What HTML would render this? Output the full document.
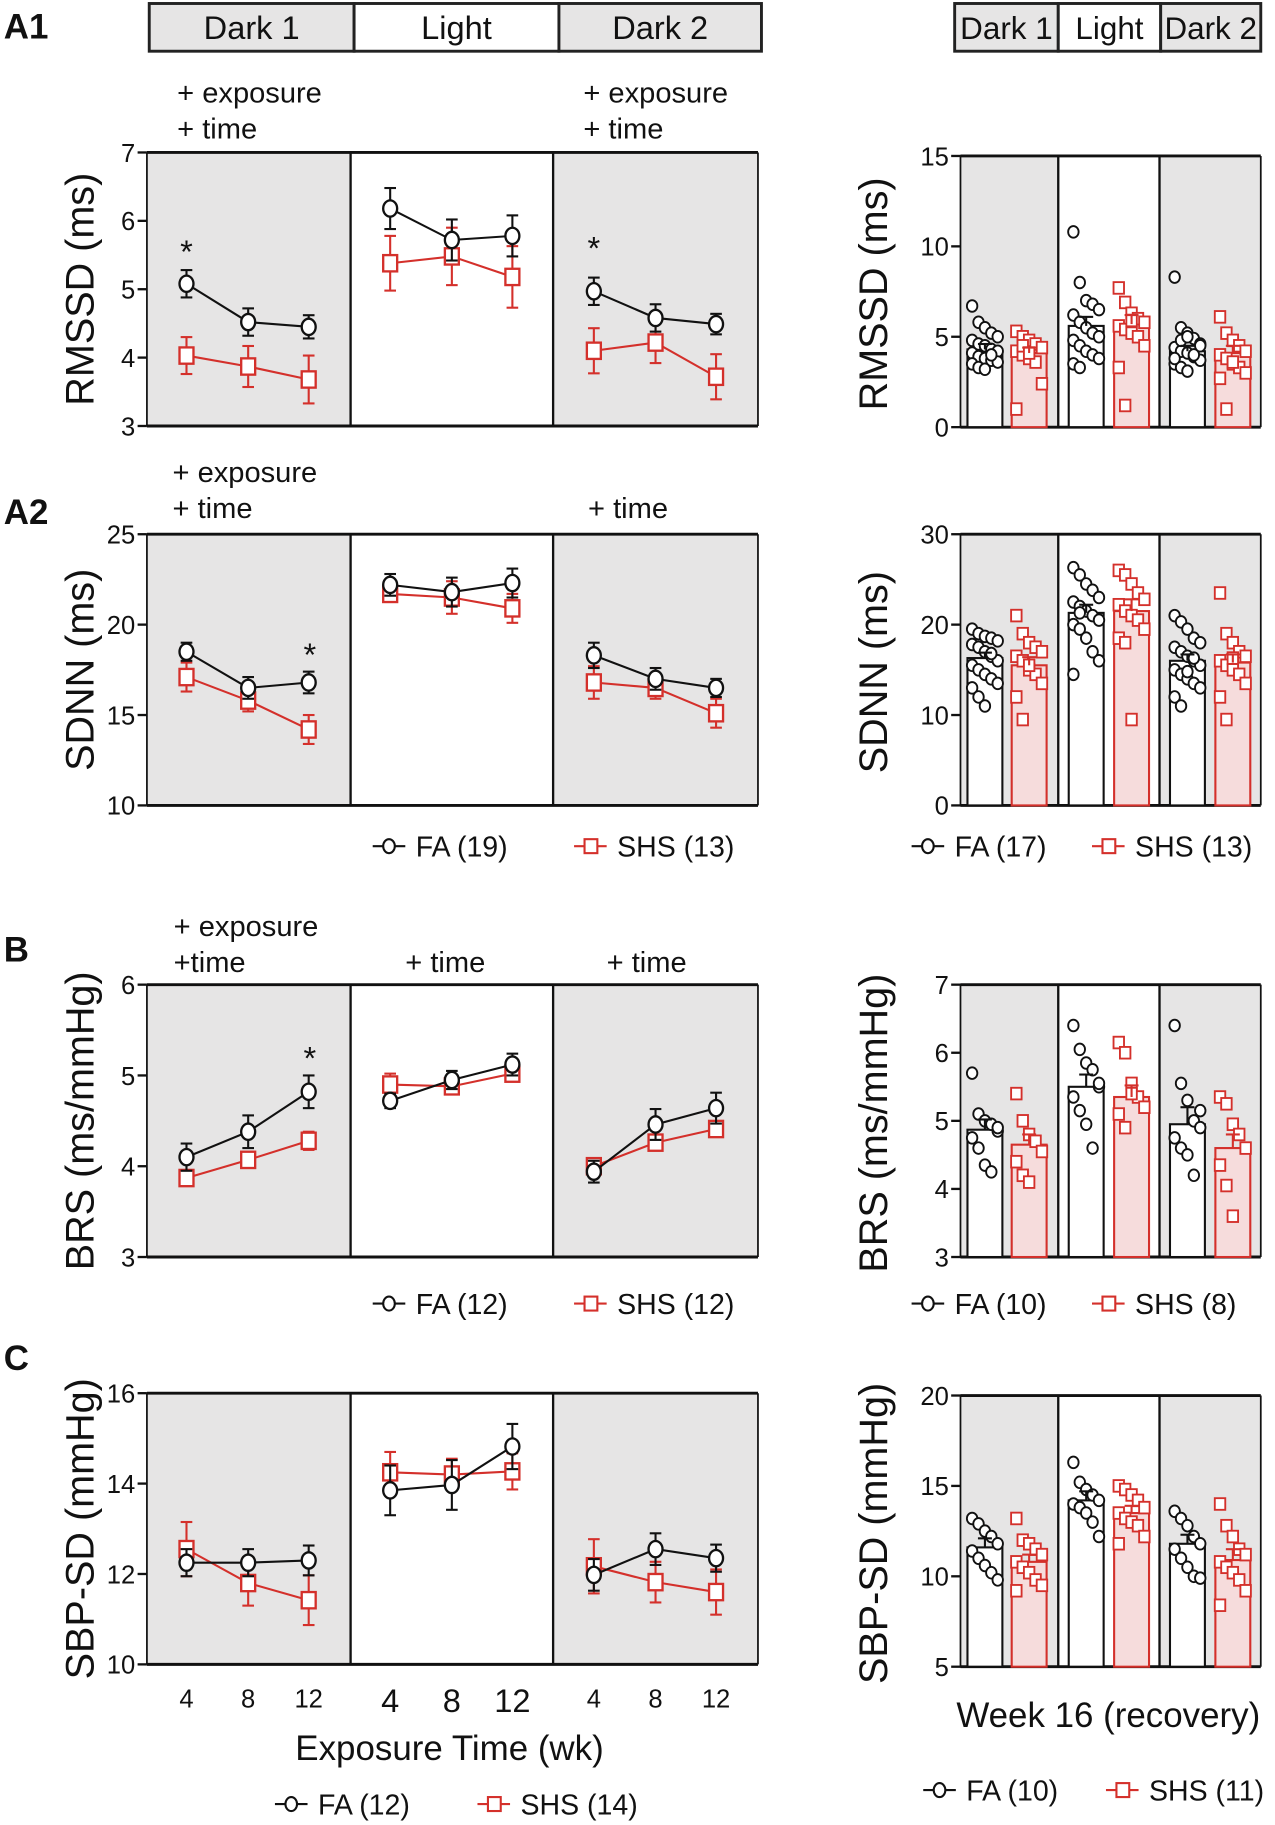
<!DOCTYPE html>
<html><head><meta charset="utf-8"><style>
html,body{margin:0;padding:0;background:#fff;}
svg{display:block;font-family:"Liberation Sans",Arial,sans-serif;}
</style></head><body>
<svg id="fig" width="1275" height="1825" viewBox="0 0 1095 1568" xmlns="http://www.w3.org/2000/svg"></svg>
<script>
// ---------- DATA ----------
const weeks = ["4","8","12"];
const phases = ["Dark 1","Light","Dark 2"];
const a1FA = [5.08,4.52,4.45, 6.18,5.72,5.78, 4.97,4.58,4.49];
const a1FAerr = [0.2,0.2,0.17, 0.3,0.3,0.3, 0.2,0.2,0.15];
const a1SHS = [4.03,3.87,3.68, 5.38,5.48,5.18, 4.1,4.22,3.72];
const a1SHSerr = [0.27,0.3,0.35, 0.4,0.42,0.45, 0.33,0.3,0.33];
const a2FA = [18.5,16.5,16.8, 22.2,21.8,22.3, 18.3,17.0,16.5];
const a2FAerr = [0.5,0.6,0.6, 0.6,0.8,0.8, 0.7,0.6,0.5];
const a2SHS = [17.1,15.8,14.2, 21.7,21.5,20.9, 16.8,16.5,15.1];
const a2SHSerr = [0.8,0.6,0.8, 0.4,0.9,0.8, 0.9,0.6,0.8];
const bFA = [4.1,4.38,4.82, 4.72,4.95,5.12, 3.94,4.46,4.64];
const bFAerr = [0.15,0.18,0.18, 0.08,0.1,0.12, 0.12,0.17,0.17];
const bSHS = [3.87,4.07,4.28, 4.9,4.88,5.02, 4.0,4.26,4.41];
const bSHSerr = [0.06,0.08,0.1, 0.12,0.06,0.05, 0.08,0.08,0.08];
const cFA = [12.25,12.25,12.3, 13.85,13.97,14.82, 11.98,12.55,12.35];
const cFAerr = [0.3,0.3,0.33, 0.55,0.55,0.5, 0.35,0.35,0.3];
const cSHS = [12.55,11.8,11.42, 14.25,14.2,14.27, 12.17,11.82,11.6];
const cSHSerr = [0.6,0.5,0.55, 0.45,0.35,0.4, 0.6,0.45,0.5];

const a1BarFA = [4.3,5.6,4.2], a1BarSHS = [4.1,5.7,4.1];
const a1BarFAerr = [0.3,0.5,0.3], a1BarSHSerr = [0.3,0.5,0.4];
const a1PtsFA = [[6.7,5.8,5.5,5.2,5.0,4.8,4.6,4.5,4.3,4.2,4.1,3.9,3.8,3.7,3.6,3.5,3.3,3.2,4.0],[10.8,8.0,7.0,6.8,6.5,6.2,5.8,5.5,5.2,5.0,4.8,4.5,4.2,4.0,3.8,3.5,3.3],[8.3,5.5,5.2,4.9,4.6,4.4,4.2,4.1,3.9,3.7,3.5,3.3,3.1,4.0,4.5,3.8,4.8,5.0]];
const a1PtsSHS = [[5.3,5.0,4.8,4.6,4.4,4.2,4.0,3.8,3.6,2.4,1.0,4.5,4.1],[7.7,6.9,6.3,6.0,5.8,5.6,5.4,5.2,5.0,4.5,3.3,1.2,5.9],[6.1,5.2,4.8,4.5,4.2,4.0,3.8,3.5,3.3,3.0,2.7,1.0,3.6]];
const a2BarFA = [16.3,21.3,16.0], a2BarSHS = [15.5,21.5,15.8];
const a2BarFAerr = [0.6,0.9,0.7], a2BarSHSerr = [0.9,1.3,0.9];
const a2PtsFA = [[19.5,19,18.7,18.5,18.2,17.8,17.5,17,16.5,16,15.5,15,14.5,14,13.5,13,12,11,16.8],[26.3,25.5,24.5,23.8,23,22.5,22,21.5,21,20.5,20,19.5,18.5,17,16,14.5,21.3],[21,20.3,19.5,18.5,18,17.5,17,16.5,16,15.5,15,14.5,14,13.5,13,12,11,14.8,16.3]];
const a2PtsSHS = [[21,19,18,17.5,17,16.5,16,15,14.5,13.5,12,9.5,15.5],[26,25.5,24.5,23.5,22.8,22.2,21.5,21,20.5,19.5,18.5,18,9.5],[23.5,19,18,17,16.5,16,15.5,15,14.5,13.5,12,9.5,16.3]];
const bBarFA = [4.87,5.5,4.95], bBarSHS = [4.65,5.35,4.6];
const bBarFAerr = [0.15,0.18,0.25], bBarSHSerr = [0.15,0.17,0.2];
const bPtsFA = [[5.7,5.1,5.0,4.95,4.85,4.75,4.6,4.35,4.25,4.9],[6.4,6.05,5.85,5.75,5.5,5.35,5.15,4.95,4.6,5.55],[6.4,5.55,5.3,5.0,4.9,4.75,4.6,4.5,4.2,5.15]];
const bPtsSHS = [[5.4,5.0,4.8,4.7,4.55,4.4,4.2,4.1],[6.15,6.0,5.55,5.35,5.2,5.1,4.9,5.4],[5.35,5.25,4.95,4.8,4.6,4.35,4.05,3.6]];
const cBarFA = [11.6,14.2,11.8], cBarSHS = [10.8,13.5,10.9];
const cBarFAerr = [0.5,0.5,0.5], cBarSHSerr = [0.4,0.4,0.6];
const cPtsFA = [[13.2,12.9,12.5,12.2,11.8,11.4,11,10.6,10.2,9.8],[16.3,15.2,14.8,14.5,14.2,14,13.8,13.5,13,12.2],[13.6,13.2,12.8,12.2,11.8,11.5,11,10.5,10,9.9]];
const cPtsSHS = [[13.2,12,11.8,11.5,11.2,10.8,10.5,10.2,9.8,9.5,9.2],[15,14.8,14.5,14.2,13.8,13.5,13.2,13,12.8,12.2,11.8],[14,12.8,12.2,11.5,11.2,10.8,10.5,10.2,9.8,9.2,8.4]];

// ---------- HELPERS ----------
const NS = "http://www.w3.org/2000/svg";
const svg = document.getElementById("fig");
const RED = "#d4302b";
function mk(tag, attrs, parent, text){
  const e = document.createElementNS(NS, tag);
  for (const k in attrs) e.setAttribute(k, attrs[k]);
  if (text !== undefined) e.textContent = text;
  (parent || svg).appendChild(e);
  return e;
}
function txt(x,y,s,size,name,anchor,extra){
  const t = mk("text", Object.assign({x:x,y:y,"font-size":size,"text-anchor":anchor||"start",fill:"#111"}, extra||{}), svg, s);
  
  
  return t;
}
function grp(name){
  const g = mk("g", {});
  
  
  return g;
}

// ---------- LEFT LINE PANELS ----------
const LX0 = 126, LX1 = 651, LDIV = [301, 475];
const xPts = [160,213,265, 335,388,440, 510,563,615];
function linePanel(id, top, bot, ymin, ymax, ticks, fa, faE, shs, shsE, ytitle){
  const g = grp(id + "-plot");
  const ys = v => bot - (v - ymin) / (ymax - ymin) * (bot - top);
  mk("rect",{x:LX0,y:top,width:LDIV[0]-LX0,height:bot-top,fill:"#e6e5e5"},g);
  mk("rect",{x:LDIV[1],y:top,width:LX1-LDIV[1],height:bot-top,fill:"#e6e5e5"},g);
  mk("line",{x1:LX0,y1:top,x2:LX1,y2:top,stroke:"#111","stroke-width":2.5},g);
  mk("line",{x1:LX0,y1:bot,x2:LX1,y2:bot,stroke:"#111","stroke-width":2.5},g);
  mk("line",{x1:LX0,y1:top,x2:LX0,y2:bot,stroke:"#111","stroke-width":1.5},g);
  mk("line",{x1:LX1,y1:top,x2:LX1,y2:bot,stroke:"#111","stroke-width":1.5},g);
  LDIV.forEach(d=>mk("line",{x1:d,y1:top,x2:d,y2:bot,stroke:"#111","stroke-width":2},g));
  ticks.forEach(t=>{
    const y = ys(t);
    mk("line",{x1:LX0-8,y1:y,x2:LX0,y2:y,stroke:"#111","stroke-width":2},g);
    const l = mk("text",{x:LX0-10,y:y+8,"font-size":22,"text-anchor":"end",fill:"#111"},g,String(t));
    
    
  });
  const yt = mk("text",{x:0,y:0,"font-size":34,"text-anchor":"middle",fill:"#111",transform:`translate(80,${(top+bot)/2}) rotate(-90)`},g,ytitle);
  
  
  function series(vals, errs, color, shape, name){
    const sg = mk("g",{},g);
    
    
    for (let s=0;s<3;s++){
      let d = "";
      for (let i=0;i<3;i++){ const k=s*3+i; d += (i?"L":"M")+xPts[k]+","+ys(vals[k]); }
      mk("path",{d:d,fill:"none",stroke:color,"stroke-width":1.8},sg);
    }
    vals.forEach((v,k)=>{
      const x = xPts[k], y = ys(v), e1 = ys(v+errs[k]), e2 = ys(v-errs[k]);
      mk("line",{x1:x,y1:e1,x2:x,y2:e2,stroke:color,"stroke-width":1.8},sg);
      mk("line",{x1:x-5,y1:e1,x2:x+5,y2:e1,stroke:color,"stroke-width":1.8},sg);
      mk("line",{x1:x-5,y1:e2,x2:x+5,y2:e2,stroke:color,"stroke-width":1.8},sg);
      let m;
      if (shape==="c") m = mk("ellipse",{cx:x,cy:y,rx:6,ry:7,fill:"#fff",stroke:color,"stroke-width":2},sg);
      else m = mk("rect",{x:x-6,y:y-7,width:12,height:14,fill:"#fff",stroke:color,"stroke-width":2},sg);
      
      
    });
  }
  series(shs, shsE, RED, "s", id + "-shs-series");
  series(fa, faE, "#111", "c", id + "-fa-series");
  return ys;
}

// ---------- RIGHT BAR PANELS ----------
const RX0 = 825, RX1 = 1083, RDIV = [909, 996];
const barC = [[846,884],[933,972],[1020,1059]];
function barPanel(id, top, bot, ymin, ymax, ticks, mFA, eFA, mSHS, eSHS, pFA, pSHS, ytitle){
  const g = grp(id + "-bar-chart");
  const ys = v => bot - (v - ymin) / (ymax - ymin) * (bot - top);
  mk("rect",{x:RX0,y:top,width:RDIV[0]-RX0,height:bot-top,fill:"#e6e5e5"},g);
  mk("rect",{x:RDIV[1],y:top,width:RX1-RDIV[1],height:bot-top,fill:"#e6e5e5"},g);
  mk("line",{x1:RX0,y1:top,x2:RX1,y2:top,stroke:"#111","stroke-width":2.5},g);
  mk("line",{x1:RX0,y1:bot,x2:RX1,y2:bot,stroke:"#111","stroke-width":2.5},g);
  mk("line",{x1:RX0,y1:top,x2:RX0,y2:bot,stroke:"#111","stroke-width":1.5},g);
  mk("line",{x1:RX1,y1:top,x2:RX1,y2:bot,stroke:"#111","stroke-width":1.5},g);
  RDIV.forEach(d=>mk("line",{x1:d,y1:top,x2:d,y2:bot,stroke:"#111","stroke-width":2},g));
  ticks.forEach(t=>{
    const y = ys(t);
    mk("line",{x1:RX0-8,y1:y,x2:RX0,y2:y,stroke:"#111","stroke-width":2},g);
    const l = mk("text",{x:RX0-10,y:y+8,"font-size":22,"text-anchor":"end",fill:"#111"},g,String(t));
    
    
  });
  const yt = mk("text",{x:0,y:0,"font-size":34,"text-anchor":"middle",fill:"#111",transform:`translate(762,${(top+bot)/2+2}) rotate(-90)`},g,ytitle);
  
  
  const bw = 30;
  for (let p=0;p<3;p++){
    [[mFA,eFA,pFA,"#111","#fff","fa"],[mSHS,eSHS,pSHS,RED,"#f6dcdc","shs"]].forEach((s,j)=>{
      const cx = barC[p][j], m = s[0][p], e = s[1][p], col = s[3];
      const b = mk("rect",{x:cx-bw/2,y:ys(m),width:bw,height:bot-ys(m),fill:s[4],stroke:col,"stroke-width":1.8},g);
      
      
      const pts = s[2][p];
      pts.forEach((v,i)=>{
        const dx = ((i%5)-2)*5.5;
        let m2;
        if (j===0) m2 = mk("ellipse",{cx:cx+dx,cy:ys(v),rx:4.5,ry:5,fill:"#fff",stroke:col,"stroke-width":1.6},g);
        else m2 = mk("rect",{x:cx+dx-4.5,y:ys(v)-5,width:9,height:10,fill:"#fff",stroke:col,"stroke-width":1.6},g);
        
        
      });
      mk("line",{x1:cx,y1:ys(m),x2:cx,y2:ys(m+e),stroke:col,"stroke-width":1.8},g);
      mk("line",{x1:cx-6,y1:ys(m+e),x2:cx+6,y2:ys(m+e),stroke:col,"stroke-width":1.8},g);
    });
  }
}

function legend(x1, x2, y, faLabel, shsLabel, name){
  const g = grp(name);
  mk("line",{x1:x1,y1:y,x2:x1+28,y2:y,stroke:"#111","stroke-width":1.8},g);
  mk("ellipse",{cx:x1+14,cy:y,rx:5,ry:6,fill:"#fff",stroke:"#111","stroke-width":1.8},g);
  const t1 = mk("text",{x:x1+37,y:y+9,"font-size":24.5,fill:"#111"},g,faLabel);
   
  mk("line",{x1:x2,y1:y,x2:x2+28,y2:y,stroke:RED,"stroke-width":1.8},g);
  mk("rect",{x:x2+9,y:y-6,width:11,height:12,fill:"#fff",stroke:RED,"stroke-width":1.8},g);
  const t2 = mk("text",{x:x2+37,y:y+9,"font-size":24.5,fill:"#111"},g,shsLabel);
   
}

// ---------- HEADERS ----------
function header(x0, divs, x1, y0, y1, size, name){
  const g = grp(name);
  const xs = [x0].concat(divs).concat([x1]);
  for (let i=0;i<3;i++){
    mk("rect",{x:xs[i],y:y0,width:xs[i+1]-xs[i],height:y1-y0,fill:i===1?"#fff":"#e6e5e5",stroke:"#222","stroke-width":2.5},g);
    const t = mk("text",{x:(xs[i]+xs[i+1])/2,y:(y0+y1)/2+10,"font-size":size,"text-anchor":"middle",fill:"#111"},g,phases[i]);
    
    
  }
}
header(128,[304,480],654,3,44,28,"phase-header-left");
header(820,[909,997],1083,3,44,27,"phase-header-right");

// ---------- PANELS ----------
linePanel("a1",131,366,3,7,[3,4,5,6,7],a1FA,a1FAerr,a1SHS,a1SHSerr,"RMSSD (ms)");
barPanel("a1",134,367,0,15,[0,5,10,15],a1BarFA,a1BarFAerr,a1BarSHS,a1BarSHSerr,a1PtsFA,a1PtsSHS,"RMSSD (ms)");
linePanel("a2",459,692,10,25,[10,15,20,25],a2FA,a2FAerr,a2SHS,a2SHSerr,"SDNN (ms)");
barPanel("a2",459,692,0,30,[0,10,20,30],a2BarFA,a2BarFAerr,a2BarSHS,a2BarSHSerr,a2PtsFA,a2PtsSHS,"SDNN (ms)");
legend(320,493,727,"FA (19)","SHS (13)","legend-a2-left");
legend(783,938,727,"FA (17)","SHS (13)","legend-a2-right");
linePanel("b",846,1080,3,6,[3,4,5,6],bFA,bFAerr,bSHS,bSHSerr,"BRS (ms/mmHg)");
barPanel("b",846,1080,3,7,[3,4,5,6,7],bBarFA,bBarFAerr,bBarSHS,bBarSHSerr,bPtsFA,bPtsSHS,"BRS (ms/mmHg)");
legend(320,493,1120,"FA (12)","SHS (12)","legend-b-left");
legend(783,938,1120,"FA (10)","SHS (8)","legend-b-right");
linePanel("c",1197,1430,10,16,[10,12,14,16],cFA,cFAerr,cSHS,cSHSerr,"SBP-SD (mmHg)");
barPanel("c",1199,1432,5,20,[5,10,15,20],cBarFA,cBarFAerr,cBarSHS,cBarSHSerr,cPtsFA,cPtsSHS,"SBP-SD (mmHg)");

// ---------- PANEL LABELS & ANNOTATIONS ----------
txt(3,33,"A1",30,"panel-label-a1","start",{"font-weight":"bold"});
txt(3,450,"A2",30,"panel-label-a2","start",{"font-weight":"bold"});
txt(3,826,"B",30,"panel-label-b","start",{"font-weight":"bold"});
txt(3,1177,"C",30,"panel-label-c","start",{"font-weight":"bold"});
const ann = [[152,88,"+ exposure"],[152,119,"+ time"],[501,88,"+ exposure"],[501,119,"+ time"],
  [148,414,"+ exposure"],[148,445,"+ time"],[505,445,"+ time"],
  [149,804,"+ exposure"],[149,835,"+time"],[348,835,"+ time"],[521,835,"+ time"]];
ann.forEach(a=>txt(a[0],a[1],a[2],25,"significance-annotation"));
[[160,226],[510,223],[266,572],[266,919]].forEach(s=>txt(s[0],s[1],"*",28,"significance-star","middle"));

// x tick labels for C
xPts.forEach((x,k)=>{
  const light = k>=3 && k<6;
  txt(x, light?1471:1467, weeks[k%3], light?28:22, "x-tick-label", "middle");
});
txt(386,1512,"Exposure Time (wk)",30,"x-axis-title","middle");
txt(952,1484,"Week 16 (recovery)",30,"x-axis-title-right","middle");
legend(236,410,1550,"FA (12)","SHS (14)","legend-c-left");
legend(793,950,1538,"FA (10)","SHS (11)","legend-c-right");
</script>
</body></html>
